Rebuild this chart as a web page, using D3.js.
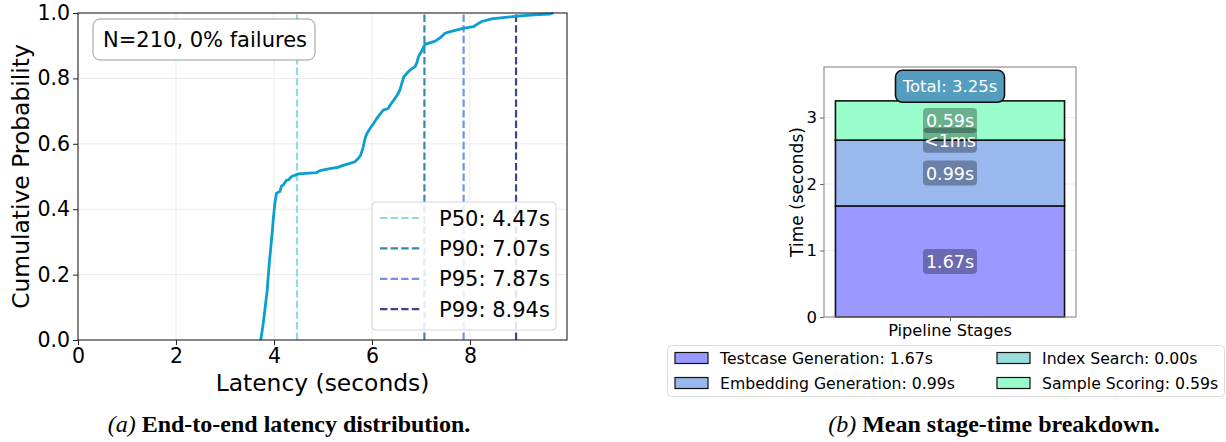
<!DOCTYPE html>
<html>
<head>
<meta charset="utf-8">
<script src="https://d3js.org/d3.v7.min.js"></script>
<style>
  body { margin: 0; background: #fff; }
  svg text { font-family: "DejaVu Sans", sans-serif; fill: #000; }
  text.cap { font-family: "Liberation Serif", "Times New Roman", serif; }
</style>
</head>
<body>
<svg id="chart" width="1226" height="442"></svg>
<script>
// ---- data: latency CDF ----
var latency = [3.73, 3.78, 3.82, 3.86, 3.88, 3.91, 3.93, 3.97, 3.99, 4.02, 4.05, 4.12, 4.15, 4.20, 4.25, 4.30, 4.36,
  4.50, 4.87, 4.94, 5.14, 5.30, 5.41, 5.55, 5.65, 5.72, 5.77, 5.80, 5.82, 5.86, 5.90, 5.96, 6.03, 6.10, 6.16, 6.23,
  6.33, 6.38, 6.47, 6.52, 6.57, 6.62, 6.65, 6.72, 6.78, 6.88, 6.92, 6.95, 7.01, 7.08, 7.29, 7.40, 7.49, 7.60, 7.86,
  8.07, 8.15, 8.24, 8.44, 8.92, 9.30, 9.63, 9.70];
var cumProb = [0.00, 0.05, 0.10, 0.15, 0.19, 0.245, 0.275, 0.34, 0.377, 0.42, 0.449, 0.454, 0.47, 0.476, 0.488, 0.49, 0.50,
  0.508, 0.512, 0.518, 0.524, 0.528, 0.534, 0.54, 0.545, 0.555, 0.566, 0.58, 0.59, 0.617, 0.632, 0.647, 0.662, 0.678, 0.69, 0.703,
  0.708, 0.72, 0.739, 0.75, 0.765, 0.79, 0.805, 0.817, 0.826, 0.836, 0.85, 0.867, 0.882, 0.904, 0.914, 0.925, 0.938, 0.943, 0.953,
  0.958, 0.966, 0.974, 0.982, 0.99, 0.994, 0.997, 1.0];

var pctNames = ["P50", "P90", "P95", "P99"];
var pctValues = [4.47, 7.07, 7.87, 8.94];
var pctColors = ["#90d9e6", "#358aa8", "#7191ec", "#3f4390"];

var latTicks = [0, 2, 4, 6, 8];
var probTicks = [0, 0.2, 0.4, 0.6, 0.8, 1.0];

// ---- data: stage breakdown ----
var stages = ["Testcase Generation", "Embedding Generation", "Index Search", "Sample Scoring"];
var stageTimes = [1.67, 0.99, 0.0004, 0.59];
var stageLabels = ["1.67s", "0.99s", "<1ms", "0.59s"];
var stageColors = ["#9999ff", "#99b8ee", "#99dcdc", "#99fecc"];
var timeTicks = [0, 1, 2, 3];

var svg = d3.select("#chart");

// =============== (a) latency CDF ===============
var x = d3.scaleLinear().domain([0, 9.98]).range([78, 567]);
var y = d3.scaleLinear().domain([0, 1]).range([340, 13]);

var gA = svg.append("g");

// grid
gA.append("g").selectAll("line").data(latTicks.slice(1)).enter().append("line")
  .attr("x1", function (d) { return x(d); }).attr("x2", function (d) { return x(d); })
  .attr("y1", y(0)).attr("y2", y(1))
  .attr("stroke", "#ebebeb").attr("stroke-width", 1);
gA.append("g").selectAll("line").data(probTicks.slice(1, 5)).enter().append("line")
  .attr("y1", function (d) { return y(d); }).attr("y2", function (d) { return y(d); })
  .attr("x1", x.range()[0]).attr("x2", x.range()[1])
  .attr("stroke", "#ebebeb").attr("stroke-width", 1);

// percentile lines
gA.append("g").selectAll("line").data(pctValues).enter().append("line")
  .attr("x1", function (d) { return x(d); }).attr("x2", function (d) { return x(d); })
  .attr("y1", y(0)).attr("y2", y(1))
  .attr("stroke", function (d, i) { return pctColors[i]; })
  .attr("stroke-width", 2.2)
  .attr("stroke-dasharray", "7.4,3.2");

// cdf curve
var pts = latency.map(function (v, i) { return [v, cumProb[i]]; });
gA.append("path").datum(pts)
  .attr("fill", "none")
  .attr("stroke", "#0a9fd0")
  .attr("stroke-width", 2.8)
  .attr("stroke-linejoin", "round")
  .attr("d", d3.line().x(function (d) { return x(d[0]); }).y(function (d) { return y(d[1]); }));

// axes
var xAxis = gA.append("g").attr("transform", "translate(0," + y(0) + ")")
  .call(d3.axisBottom(x).tickValues(latTicks).tickFormat(d3.format("d")).tickSizeOuter(0).tickSize(5).tickPadding(3));
var yAxis = gA.append("g").attr("transform", "translate(" + x(0) + ",0)")
  .call(d3.axisLeft(y).tickValues(probTicks).tickFormat(d3.format(".1f")).tickSizeOuter(0).tickSize(5).tickPadding(3));
[xAxis, yAxis].forEach(function (a) {
  a.select(".domain").remove();
  a.selectAll("line").attr("stroke", "#222");
  a.selectAll("text").attr("font-size", 20.5).attr("font-family", "DejaVu Sans").attr("fill", "#000");
});
gA.append("rect").attr("x", x(0)).attr("y", y(1))
  .attr("width", x.range()[1] - x(0)).attr("height", y(0) - y(1))
  .attr("fill", "none").attr("stroke", "#222").attr("stroke-width", 1.1);

gA.append("text").attr("x", (x.range()[0] + x.range()[1]) / 2).attr("y", 391)
  .attr("text-anchor", "middle").attr("font-size", 23.4).text("Latency (seconds)");
gA.append("text").attr("transform", "translate(29," + (y(0) + y(1)) / 2 + ") rotate(-90)")
  .attr("text-anchor", "middle").attr("font-size", 23.4).text("Cumulative Probability");

// info box
gA.append("rect").attr("x", 93).attr("y", 19).attr("width", 222).attr("height", 41)
  .attr("rx", 7).attr("fill", "#fff").attr("stroke", "#999").attr("stroke-width", 1);
gA.append("text").attr("x", 103).attr("y", 47).attr("font-size", 21).text("N=210, 0% failures");

// legend
var lg = gA.append("g");
lg.append("rect").attr("x", 372).attr("y", 202).attr("width", 184).attr("height", 128)
  .attr("rx", 4).attr("fill", "rgba(255,255,255,0.85)").attr("stroke", "#d6d6d6");
var rows = lg.selectAll("g.row").data(pctNames).enter().append("g")
  .attr("transform", function (d, i) { return "translate(0," + (218 + i * 30.4) + ")"; });
rows.append("line").attr("x1", 380).attr("x2", 422).attr("y1", 0).attr("y2", 0)
  .attr("stroke", function (d, i) { return pctColors[i]; })
  .attr("stroke-width", 2.2).attr("stroke-dasharray", "7.4,3.2");
rows.append("text").attr("x", 439).attr("y", 7.5).attr("font-size", 21)
  .text(function (d, i) { return d + ": " + pctValues[i].toFixed(2) + "s"; });

// caption
var capA = svg.append("text").attr("class", "cap").attr("x", 289).attr("y", 432)
  .attr("text-anchor", "middle").attr("font-size", 24);
capA.append("tspan").attr("font-style", "italic").text("(a) ");
capA.append("tspan").attr("font-weight", "bold").text("End-to-end latency distribution.");

// =============== (b) stage breakdown ===============
var xb = d3.scaleLinear().domain([-0.44, 0.44]).range([824, 1076]);
var yb = d3.scaleLinear().domain([0, 3.76]).range([317, 67]);
var gB = svg.append("g");

gB.append("g").selectAll("line").data(timeTicks.slice(1)).enter().append("line")
  .attr("y1", function (d) { return yb(d); }).attr("y2", function (d) { return yb(d); })
  .attr("x1", xb.range()[0]).attr("x2", xb.range()[1])
  .attr("stroke", "#efefef");

var stack = [];
var acc = 0;
stageTimes.forEach(function (v, i) {
  stack.push({ name: stages[i], y0: acc, y1: acc + v, color: stageColors[i], label: stageLabels[i], v: v });
  acc += v;
});
var total = d3.sum(stageTimes);

gB.append("g").selectAll("rect").data(stack).enter().append("rect")
  .attr("x", xb(-0.4)).attr("width", xb(0.4) - xb(-0.4))
  .attr("y", function (d) { return yb(d.y1); })
  .attr("height", function (d) { return yb(d.y0) - yb(d.y1); })
  .attr("fill", function (d) { return d.color; })
  .attr("stroke", "#111").attr("stroke-width", 1.6);

// value labels
var lab = gB.append("g").selectAll("g").data(stack).enter().append("g")
  .attr("transform", function (d) { return "translate(" + xb(0) + "," + yb((d.y0 + d.y1) / 2) + ")"; });
lab.append("rect").attr("x", -27).attr("y", -12.5).attr("width", 54).attr("height", 25)
  .attr("rx", 4).attr("fill", "rgba(0,0,0,0.3)");
lab.append("text").attr("text-anchor", "middle").attr("y", 6.5).attr("font-size", 17.5)
  .style("fill", "#fff").text(function (d) { return d.label; });

// total box
var tb = gB.append("g").attr("transform", "translate(" + xb(0) + "," + yb(total + 0.22) + ")");
tb.append("rect").attr("x", -54.5).attr("y", -16).attr("width", 109).attr("height", 32)
  .attr("rx", 7).attr("fill", "#549dbe").attr("stroke", "#111").attr("stroke-width", 1.6);
tb.append("text").attr("text-anchor", "middle").attr("y", 6).attr("font-size", 16.5)
  .style("fill", "#fff").text("Total: " + total.toFixed(2) + "s");

// axes
var ybAxis = gB.append("g").attr("transform", "translate(" + xb.range()[0] + ",0)")
  .call(d3.axisLeft(yb).tickValues(timeTicks).tickFormat(d3.format("d")).tickSizeOuter(0).tickSize(4).tickPadding(3));
ybAxis.select(".domain").remove();
ybAxis.selectAll("line").attr("stroke", "#666");
ybAxis.selectAll("text").attr("font-size", 16.5).attr("font-family", "DejaVu Sans").attr("fill", "#000");
var xbAxis = gB.append("g").attr("transform", "translate(0," + yb(0) + ")")
  .call(d3.axisBottom(xb).tickValues([0]).tickFormat("").tickSizeOuter(0).tickSize(4));
xbAxis.select(".domain").remove();
xbAxis.selectAll("line").attr("stroke", "#666");

gB.append("rect").attr("x", xb.range()[0]).attr("y", yb.range()[1])
  .attr("width", xb.range()[1] - xb.range()[0]).attr("height", yb.range()[0] - yb.range()[1])
  .attr("fill", "none").attr("stroke", "#888").attr("stroke-width", 1.1);

gB.append("text").attr("x", xb(0)).attr("y", 336).attr("text-anchor", "middle")
  .attr("font-size", 16.2).text("Pipeline Stages");
gB.append("text").attr("transform", "translate(803," + (yb.range()[0] + yb.range()[1]) / 2 + ") rotate(-90)")
  .attr("text-anchor", "middle").attr("font-size", 17).text("Time (seconds)");

// legend
var lgB = gB.append("g");
lgB.append("rect").attr("x", 667.5).attr("y", 345.5).attr("width", 557).attr("height", 51)
  .attr("rx", 4).attr("fill", "#fff").attr("stroke", "#dcdcdc");
var colX = [675, 997];
var items = lgB.selectAll("g.it").data(stack).enter().append("g")
  .attr("transform", function (d, i) {
    return "translate(" + colX[Math.floor(i / 2)] + "," + (358 + (i % 2) * 25) + ")";
  });
items.append("rect").attr("x", 0).attr("y", -5.5).attr("width", 33).attr("height", 11)
  .attr("fill", function (d) { return d.color; }).attr("stroke", "#111").attr("stroke-width", 1.2);
items.append("text").attr("x", 45).attr("y", 6).attr("font-size", 15.7)
  .text(function (d) { return d.name + ": " + (d.v < 0.005 ? 0 : d.v).toFixed(2) + "s"; });

var capB = svg.append("text").attr("class", "cap").attr("x", 994).attr("y", 432)
  .attr("text-anchor", "middle").attr("font-size", 24);
capB.append("tspan").attr("font-style", "italic").text("(b) ");
capB.append("tspan").attr("font-weight", "bold").text("Mean stage-time breakdown.");
</script>
</body>
</html>
